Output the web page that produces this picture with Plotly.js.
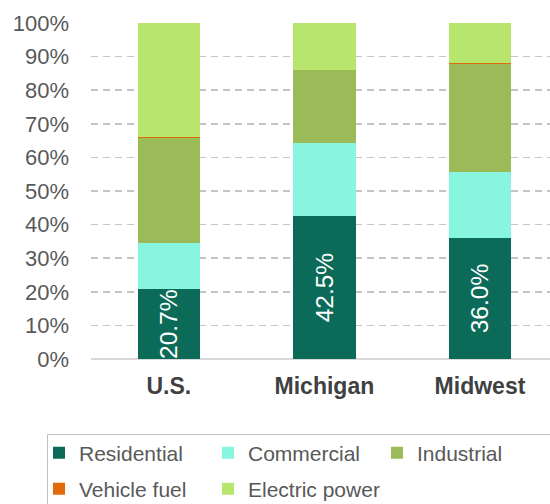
<!DOCTYPE html>
<html>
<head>
<meta charset="utf-8">
<script src="https://cdn.plot.ly/plotly-3.0.1.min.js"></script>
<style>html,body{margin:0;padding:0;background:#fff;}#chart{width:550px;height:504px;}</style>
</head>
<body>
<div id="chart"></div>
<script>
var categories = ["U.S.", "Michigan", "Midwest"];
var residential = [20.7, 42.5, 36.0];
var commercial = [13.7, 21.8, 19.6];
var industrial = [31.3, 21.7, 32.3];
var vehicleFuel = [0.4, 0.05, 0.05];
var electricPower = [33.9, 13.95, 12.05];
var yTickValues = [0, 10, 20, 30, 40, 50, 60, 70, 80, 90, 100];
var yTickLabels = ["0%", "10%", "20%", "30%", "40%", "50%", "60%", "70%", "80%", "90%", "100%"];

var W = 550, H = 504, L = 91, T = 23, B = 145, R = 0;
var pw = W - L - R, ph = H - T - B;
function px(x) { return (x - L) / pw; }
function py(y) { return (H - B - y) / ph; }

var FONT = "Liberation Sans, Arial, sans-serif";
var seriesDefs = [
  {name: "Residential", y: residential, color: "#0b6b58", legend: "legend", tx: 79, ty: 453},
  {name: "Commercial", y: commercial, color: "#88f5de", legend: "legend2", tx: 248, ty: 453},
  {name: "Industrial", y: industrial, color: "#9bbb59", legend: "legend3", tx: 417, ty: 453},
  {name: "Vehicle fuel", y: vehicleFuel, color: "#e36c0a", legend: "legend4", tx: 79, ty: 489},
  {name: "Electric power", y: electricPower, color: "#b8e56e", legend: "legend5", tx: 248, ty: 489}
];

var traces = seriesDefs.map(function (s, i) {
  var t = {
    type: "bar", name: s.name, x: categories, y: s.y,
    marker: {color: s.color, line: {width: 0}},
    width: 0.4, legend: s.legend, hoverinfo: "skip"
  };
  if (i === 0) {
    t.texttemplate = "%{y:.1f}%";
    t.textposition = "inside";
    t.insidetextanchor = "middle";
    t.textangle = -90;
    t.constraintext = "none";
    t.textfont = {family: FONT, size: 24.5, color: "#ffffff"};
    t.insidetextfont = {family: FONT, size: 24.5, color: "#ffffff"};
  } else {
    t.textposition = "none";
  }
  return t;
});

var layout = {
  width: W, height: H,
  margin: {l: L, r: R, t: T, b: B, pad: 0, autoexpand: false},
  paper_bgcolor: "#ffffff", plot_bgcolor: "#ffffff",
  barmode: "stack",
  uniformtext: {mode: false},
  font: {family: FONT, color: "#595959"},
  xaxis: {
    type: "category", range: [-0.5, 2.45], fixedrange: true,
    showgrid: false, showline: false, zeroline: false, ticks: "",
    tickfont: {family: FONT, size: 23, color: "#404040", weight: "bold"},
    ticklabelstandoff: 11
  },
  yaxis: {
    range: [0, 100], tickmode: "array", tickvals: yTickValues, ticktext: yTickLabels, fixedrange: true,
    showgrid: true, gridcolor: "#c4c4c4", gridwidth: 1.5, griddash: "7px,5px",
    zeroline: true, zerolinecolor: "#d9d9d9", zerolinewidth: 2,
    showline: false, ticks: "",
    tickfont: {family: FONT, size: 22, color: "#595959"},
    ticklabelstandoff: 21
  },
  showlegend: true,
  shapes: [{
    type: "rect", xref: "paper", yref: "paper",
    x0: px(47.5), x1: px(570), y0: py(434.5), y1: py(530),
    line: {color: "#c0c0c0", width: 1}, fillcolor: "rgba(0,0,0,0)", layer: "below"
  }]
};

seriesDefs.forEach(function (s) {
  layout[s.legend] = {
    orientation: "h", x: px(s.tx - 40), xanchor: "left",
    y: py(s.ty), yanchor: "middle",
    bgcolor: "rgba(0,0,0,0)", borderwidth: 0,
    font: {family: FONT, size: 21, color: "#595959"}
  };
});

Plotly.newPlot("chart", traces, layout, {displayModeBar: false, staticPlot: true});
</script>
</body>
</html>
